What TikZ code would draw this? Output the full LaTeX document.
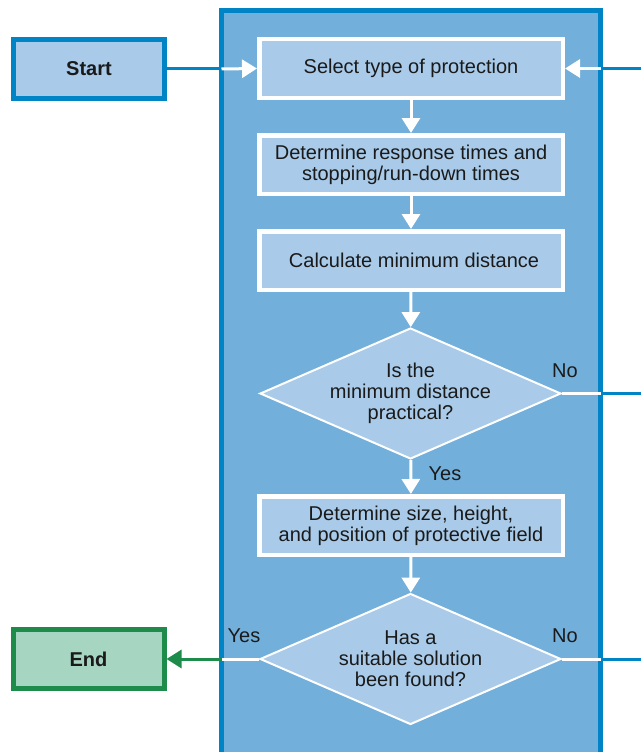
\documentclass[tikz,border=0pt]{standalone}
\usepackage{fontspec}
\setmainfont{Liberation Sans}
\usetikzlibrary{arrows.meta,shapes.geometric}
\definecolor{pblue}{HTML}{0084C6}
\definecolor{pfill}{HTML}{72AFDB}
\definecolor{boxfill}{HTML}{A9CBE9}
\definecolor{egreen}{HTML}{1D8C4A}
\definecolor{efill}{HTML}{A6D5C2}
\definecolor{txt}{HTML}{1A1A1A}
\tikzset{
  tfont/.style={font=\fontsize{20}{21}\selectfont, text=txt},
  termbox/.style={rectangle, line width=5pt, minimum width=151pt, minimum height=59pt, inner sep=0pt, tfont, font=\fontsize{20}{21}\selectfont\bfseries},
  procbox/.style={rectangle, draw=white, line width=4.5pt, fill=boxfill, minimum width=303.5pt, minimum height=58.5pt, inner sep=0pt, align=center, tfont},
  decbox/.style={diamond, draw=white, line width=2pt, fill=boxfill, minimum width=301pt, minimum height=131pt, shape aspect=2.3, inner sep=0pt, align=center, tfont},
  wline/.style={draw=white, line width=3pt},
  warrow/.style={wline, -{Triangle[length=15pt,width=18pt]}},
  bline/.style={draw=pblue, line width=3pt},
  garrow/.style={draw=egreen, line width=3pt, -{Triangle[length=15pt,width=18pt]}},
  lbl/.style={tfont, inner sep=0pt}
}
\begin{document}
\begin{tikzpicture}[x=1pt,y=-1pt]
\useasboundingbox (0,0) rectangle (641,752);
\clip (0,0) rectangle (641,752);
% panel
\draw[line width=5pt, draw=pblue, fill=pfill] (221.5,10.5) rectangle (600.5,790);
% terminals
\node[termbox, draw=pblue, fill=boxfill] (start) at (89,69) {Start};
\node[termbox, draw=egreen, fill=efill] (end) at (88.5,659) {End};
% process
\node[procbox] (sel) at (411,68.5) {Select type of protection};
\node[procbox] (det) at (411,164.5) {Determine response times and\\stopping/run-down times};
\node[procbox] (calc) at (411,260.5) {\hspace*{6pt}Calculate minimum distance};
\node[decbox] (d1) at (410.5,393.5) {Is the\\minimum distance\\practical?};
\node[procbox] (size) at (411,525.5) {Determine size, height,\\and position of protective field};
\node[decbox] (d2) at (410.5,659) {Has a\\suitable solution\\been found?};
% coordinates at panel edges and image edge
\coordinate (pl1) at (221.5,69);
\coordinate (pr1) at (600.5,68.5);
\coordinate (e1) at (641,68.5);
\coordinate (pr2) at (600.5,393.5);
\coordinate (e2) at (641,393.5);
\coordinate (pr3) at (600.5,659);
\coordinate (e3) at (641,659);
\coordinate (pl3) at (221.5,659);
% connectors
\draw[bline] (start.east) -- (pl1);
\draw[warrow] (pl1) -- (sel.west);
\draw[bline] (e1) -- (pr1);
\draw[warrow] (pr1) -- (sel.east);
\draw[warrow] (sel) -- (det);
\draw[warrow] (det) -- (calc);
\draw[warrow] (calc) -- (d1);
\draw[warrow] (d1) -- (size);
\draw[warrow] (size) -- (d2);
\draw[wline] (d1.east) -- (pr2);
\draw[bline] (pr2) -- (e2);
\draw[wline] (d2.east) -- (pr3);
\draw[bline] (pr3) -- (e3);
\draw[wline] (d2.west) -- (pl3);
\draw[garrow] (pl3) -- (end.east);
% labels
\node[lbl] (no1) at (565,371) {No};
\node[lbl] (yes1) at (445,474) {Yes};
\node[lbl] (yes2) at (244,636) {Yes};
\node[lbl] (no2) at (565,636) {No};
\end{tikzpicture}
\end{document}
